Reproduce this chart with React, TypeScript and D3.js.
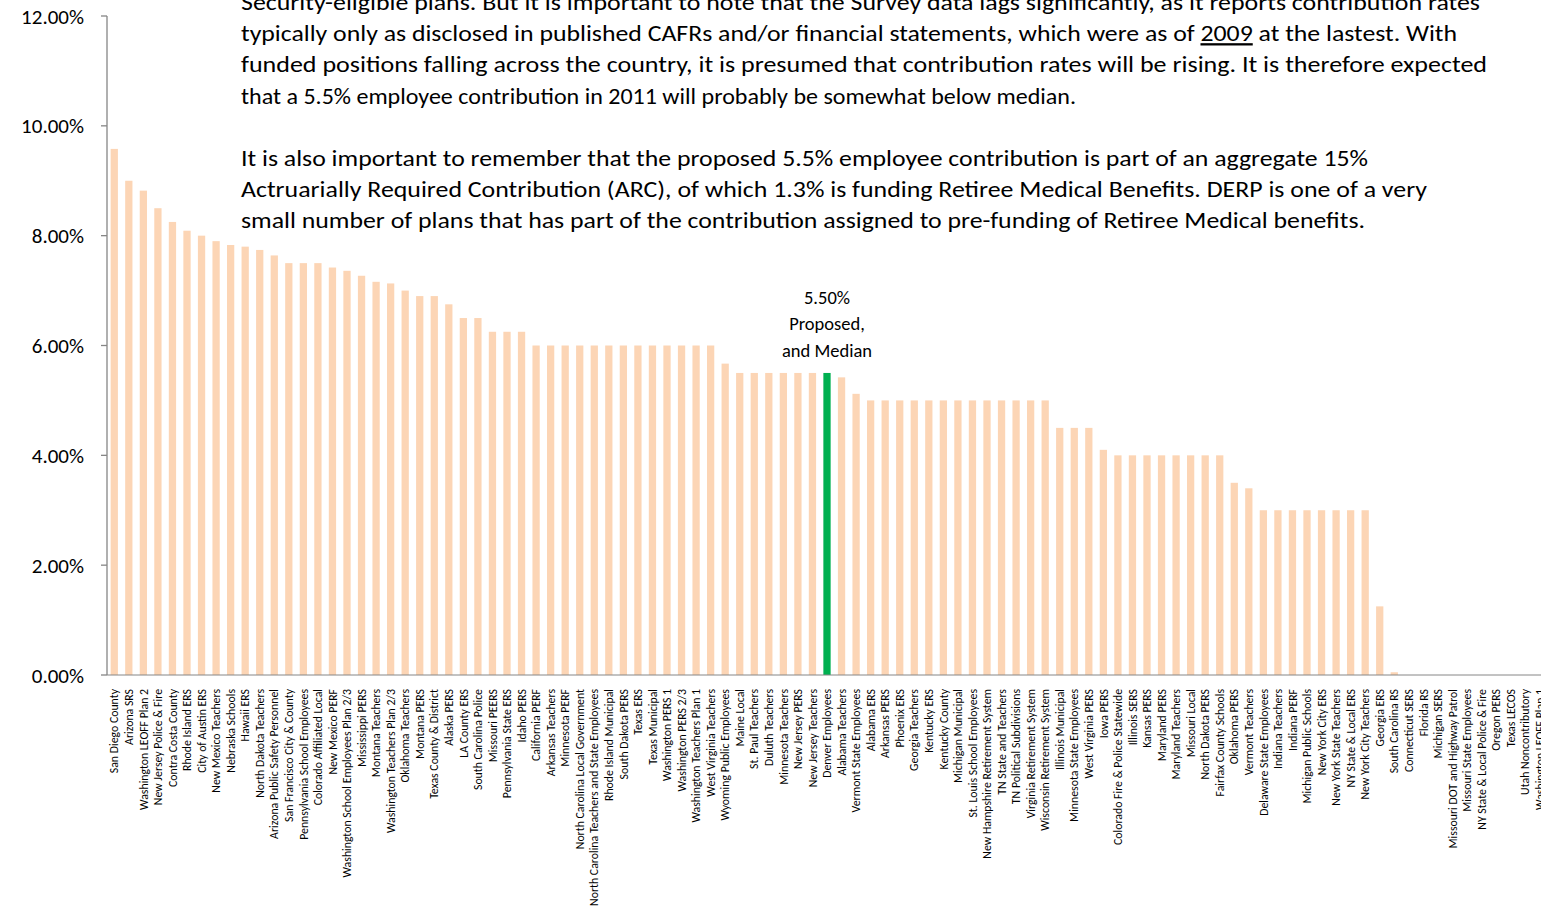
import React from "react";
import * as d3 from "d3";

const plans: string[] = [
  "San Diego County", "Arizona SRS", "Washington LEOFF Plan 2", "New Jersey Police & Fire", "Contra Costa County",
  "Rhode Island ERS", "City of Austin ERS", "New Mexico Teachers", "Nebraska Schools", "Hawaii ERS",
  "North Dakota Teachers", "Arizona Public Safety Personnel", "San Francisco City & County", "Pennsylvania School Employees", "Colorado Affiliated Local",
  "New Mexico PERF", "Washington School Employees Plan 2/3", "Mississippi PERS", "Montana Teachers", "Washington Teachers Plan 2/3",
  "Oklahoma Teachers", "Montana PERS", "Texas County & District", "Alaska PERS", "LA County ERS",
  "South Carolina Police", "Missouri PEERS", "Pennsylvania State ERS", "Idaho PERS", "California PERF",
  "Arkansas Teachers", "Minnesota PERF", "North Carolina Local Government", "North Carolina Teachers and State Employees", "Rhode Island Municipal",
  "South Dakota PERS", "Texas ERS", "Texas Municipal", "Washington PERS 1", "Washington PERS 2/3",
  "Washington Teachers Plan 1", "West Virginia Teachers", "Wyoming Public Employees", "Maine Local", "St. Paul Teachers",
  "Duluth Teachers", "Minnesota Teachers", "New Jersey PERS", "New Jersey Teachers", "Denver Employees",
  "Alabama Teachers", "Vermont State Employees", "Alabama ERS", "Arkansas PERS", "Phoenix ERS",
  "Georgia Teachers", "Kentucky ERS", "Kentucky County", "Michigan Municipal", "St. Louis School Employees",
  "New Hampshire Retirement System", "TN State and Teachers", "TN Political Subdivisions", "Virginia Retirement System", "Wisconsin Retirement System",
  "Illinois Municipal", "Minnesota State Employees", "West Virginia PERS", "Iowa PERS", "Colorado Fire & Police Statewide",
  "Illinois SERS", "Kansas PERS", "Maryland PERS", "Maryland Teachers", "Missouri Local",
  "North Dakota PERS", "Fairfax County Schools", "Oklahoma PERS", "Vermont Teachers", "Delaware State Employees",
  "Indiana Teachers", "Indiana PERF", "Michigan Public Schools", "New York City ERS", "New York State Teachers",
  "NY State & Local ERS", "New York City Teachers", "Georgia ERS", "South Carolina RS", "Connecticut SERS",
  "Florida RS", "Michigan SERS", "Missouri DOT and Highway Patrol", "Missouri State Employees", "NY State & Local Police & Fire",
  "Oregon PERS", "Texas LECOS", "Utah Noncontributory", "Washington LEOFF Plan 1",
];

const rates: number[] = [
  9.58, 9.0, 8.82, 8.5, 8.25,
  8.09, 8.0, 7.9, 7.83, 7.8,
  7.74, 7.64, 7.5, 7.5, 7.5,
  7.42, 7.36, 7.27, 7.16, 7.13,
  7.0, 6.9, 6.9, 6.75, 6.5,
  6.5, 6.25, 6.25, 6.25, 6.0,
  6.0, 6.0, 6.0, 6.0, 6.0,
  6.0, 6.0, 6.0, 6.0, 6.0,
  6.0, 6.0, 5.67, 5.5, 5.5,
  5.5, 5.5, 5.5, 5.5, 5.5,
  5.42, 5.12, 5.0, 5.0, 5.0,
  5.0, 5.0, 5.0, 5.0, 5.0,
  5.0, 5.0, 5.0, 5.0, 5.0,
  4.5, 4.5, 4.5, 4.1, 4.0,
  4.0, 4.0, 4.0, 4.0, 4.0,
  4.0, 4.0, 3.5, 3.4, 3.0,
  3.0, 3.0, 3.0, 3.0, 3.0,
  3.0, 3.0, 1.25, 0.05, 0,
  0, 0, 0, 0, 0,
  0, 0, 0, 0,
];

const highlightPlan = "Denver Employees";
const yTicks: number[] = [0, 2, 4, 6, 8, 10, 12];

const noteLines: { text: string; width: number }[] = [
  { text: "Security-eligible plans.  But it is important to note that the Survey data lags significantly, as it reports contribution rates", width: 1239 },
  { text: "typically only as disclosed in published CAFRs and/or financial statements, which were as of |2009| at the lastest.  With", width: 1216 },
  { text: "funded positions falling across the country, it is presumed that contribution rates will be rising.  It is therefore expected", width: 1246 },
  { text: "that a 5.5%  employee contribution in 2011 will probably be somewhat below median.", width: 835 },
  { text: "", width: 0 },
  { text: "It is also important to remember that  the proposed 5.5% employee contribution is part of an aggregate 15%", width: 1127 },
  { text: "Actruarially Required Contribution (ARC), of which 1.3% is funding Retiree Medical Benefits.  DERP is one of a very", width: 1186 },
  { text: "small number of plans that has part of the contribution assigned to pre-funding of Retiree Medical benefits.", width: 1124 },
];

const calloutLines: string[] = ["5.50%", "Proposed,", "and Median"];

const FONT = "Carlito, Lato, 'Open Sans', sans-serif";

export default function App() {
  const width = 1541;
  const height = 912;
  const x0 = 107;
  const x1 = 1547;
  const yTop = 16;
  const yBottom = 675;

  const x = d3.scaleBand<string>().domain(plans).range([x0, x1]).paddingInner(0.5).paddingOuter(0.25);
  const y = d3.scaleLinear().domain([0, 12]).range([yBottom, yTop]);

  const hx = (x(highlightPlan) ?? 0) + x.bandwidth() / 2;
  const hy = y(rates[plans.indexOf(highlightPlan)]);

  return (
    <svg width={width} height={height} style={{ position: "absolute", left: 0, top: 0, background: "#fff" }} fontFamily={FONT}>
      {/* bars */}
      {plans.map((p, i) => (
        <rect
          key={p}
          x={x(p)}
          y={y(rates[i])}
          width={x.bandwidth()}
          height={yBottom - y(rates[i])}
          fill={p === highlightPlan ? "#00B050" : "#FCD5B5"}
        />
      ))}

      {/* axes */}
      <line x1={x0} x2={x0} y1={y(12)} y2={yBottom} stroke="#868686" strokeWidth={1.3} />
      <line x1={x0} x2={x1} y1={yBottom} y2={yBottom} stroke="#868686" strokeWidth={1} />
      {yTicks.map((t) => (
        <g key={t}>
          <line x1={x0 - 6} x2={x0} y1={y(t)} y2={y(t)} stroke="#868686" strokeWidth={1.3} />
          <text x={84} y={y(t)} dy="0.36em" textAnchor="end" fontSize={21} fill="#000">
            {d3.format(".2f")(t) + "%"}
          </text>
        </g>
      ))}

      {/* x labels */}
      {plans.map((p) => {
        const cx = (x(p) ?? 0) + x.bandwidth() / 2;
        return (
          <text
            key={"l" + p}
            transform={`translate(${cx},${689}) rotate(-90)`}
            textAnchor="end"
            dy="0.35em"
            fontSize={11.8}
            fill="#000"
          >
            {p}
          </text>
        );
      })}

      {/* note text */}
      {noteLines.map((ln, i) => {
        if (!ln.text) return null;
        const parts = ln.text.split("|");
        return (
          <text
            key={"n" + i}
            x={241}
            y={10 + i * 31.2}
            fontSize={23}
            fill="#000"
            textLength={ln.width}
            lengthAdjust="spacingAndGlyphs"
          >
            {parts.map((s, j) =>
              j % 2 === 1 ? (
                <tspan key={j} textDecoration="underline">{s}</tspan>
              ) : (
                <tspan key={j}>{s}</tspan>
              )
            )}
          </text>
        );
      })}

      {/* callout */}
      {calloutLines.map((s, i) => (
        <text key={"c" + i} x={hx} y={hy - 69 + i * 26.5} textAnchor="middle" fontSize={18.5} fill="#000">
          {s}
        </text>
      ))}
    </svg>
  );
}
